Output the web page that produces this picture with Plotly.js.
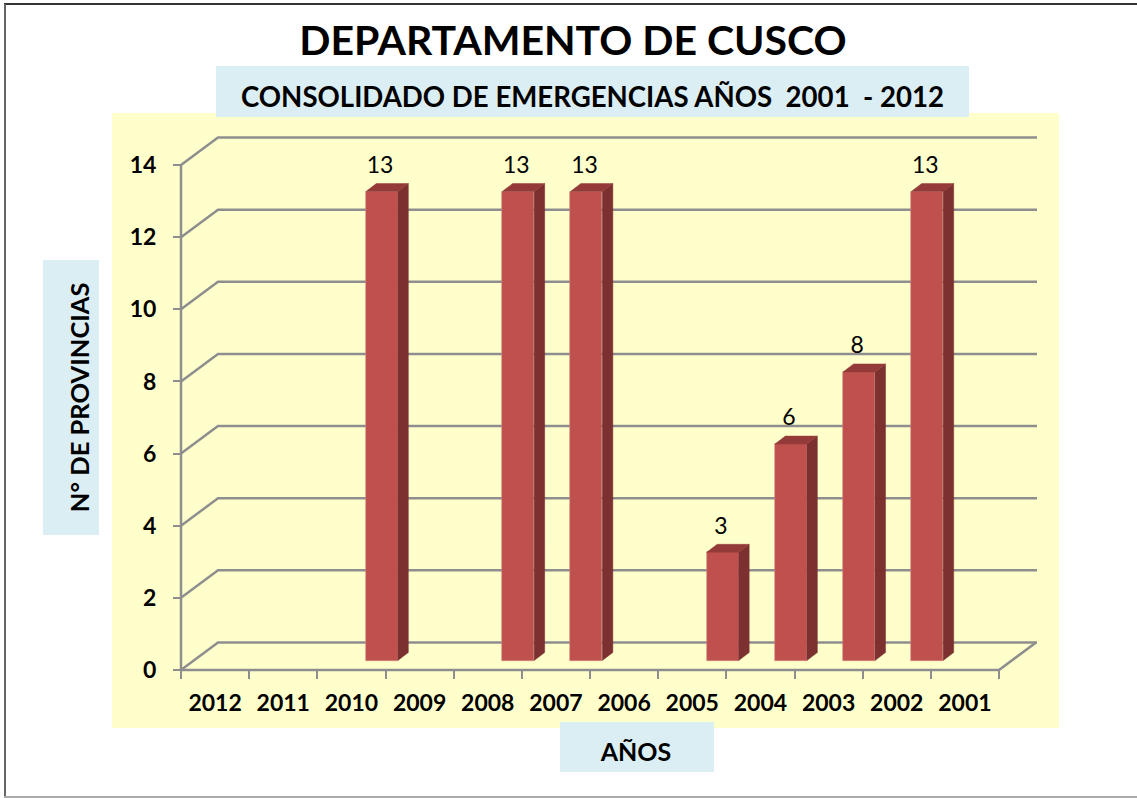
<!DOCTYPE html>
<html>
<head>
<meta charset="utf-8">
<script src="https://cdn.plot.ly/plotly-3.0.1.min.js"></script>
<style>html,body{margin:0;padding:0;background:#fff}#chart{width:1137px;height:798px}</style>
</head>
<body>
<div id="chart"></div>
<script>
const categories = ['2012','2011','2010','2009','2008','2007','2006','2005','2004','2003','2002','2001'];
const provincias = [null,null,13,null,13,13,null,3,6,8,13,null];
const yTicks = [0,2,4,6,8,10,12,14];

const W = 1137, H = 798;
const FONT = 'Lato, Carlito, Calibri, sans-serif';
const px = v => v / W, py = v => 1 - v / H;
const axisLeft = 181, axisBottom = 670, wallRight = 1037, wallTop = 137, bleed = 4;
const catPx = 68.17, unitPx = 36.07;

// 3-D projection constants, in axis units
const wallDx = 37 / catPx, wallDy = 27.5 / unitPx;
const barOffset = 14.4 / catPx, barWidth = 32 / catPx, barBase = 9.5 / unitPx;
const sideDx = 10.5 / catPx, sideDy = 8 / unitPx;
const labelDy = 24.5 / unitPx, labelDx = -1.8 / catPx;

const x0 = -0.5, xN = categories.length - 0.5;
const xEnd = x0 + (wallRight - axisLeft) / catPx;
const xRange = [x0 - bleed / catPx, xEnd + bleed / catPx];
const yRange = [-bleed / unitPx, (axisBottom - wallTop + bleed) / unitPx];
const pad = n => '\u00A0'.repeat(n);

// wall grid, floor and axis lines, kept under the bars
const gridColor = '#8e8e8e';
const polyline = pts => ({type:'path', xref:'x', yref:'y', layer:'below',
  path:pts.map((p, i) => (i ? 'L' : 'M') + p[0] + ',' + p[1]).join(' '),
  line:{color:gridColor, width:2.5}});
const gridShapes = yTicks.map(t => polyline([[x0, t], [x0 + wallDx, t + wallDy], [xEnd, t + wallDy]]));
gridShapes.push(polyline([[x0, 0], [x0, yTicks[yTicks.length - 1]]]));
gridShapes.push(polyline([[x0, 0], [xN, 0], [xN + wallDx, wallDy]]));

// bar side and top faces, data labels
const sx = [], sy = [], tx = [], ty = [], lx = [], ly = [], lt = [];
provincias.forEach((v, i) => {
  if (v === null) return;
  const a = i + barOffset, b = a + barWidth, lo = barBase, hi = barBase + v;
  sx.push(b, b + sideDx, b + sideDx, b, b, null);
  sy.push(lo, lo + sideDy, hi + sideDy, hi, lo, null);
  tx.push(a, a + sideDx, b + sideDx, b, a, null);
  ty.push(hi, hi + sideDy, hi + sideDy, hi, hi, null);
  lx.push(a + barWidth / 2 + labelDx); ly.push(hi + labelDy); lt.push(String(v));
});

const traces = [
  {type:'bar', x:categories.map((c, i) => i), y:provincias, base:barBase, offset:barOffset, width:barWidth,
   marker:{color:'#C0504D', line:{color:'#D08A80', width:0.6}}, showlegend:false,
   customdata:categories, hovertemplate:'%{customdata}: %{y}<extra></extra>'},
  {type:'scatter', mode:'lines', x:sx, y:sy, fill:'toself', fillcolor:'#7C3130', cliponaxis:false,
   line:{color:'#7C3130', width:0.5}, hoverinfo:'skip', showlegend:false},
  {type:'scatter', mode:'lines', x:tx, y:ty, fill:'toself', fillcolor:'#943B39', cliponaxis:false,
   line:{color:'#943B39', width:0.5}, hoverinfo:'skip', showlegend:false},
  {type:'scatter', mode:'text', x:lx, y:ly, text:lt, cliponaxis:false, textposition:'middle center',
   textfont:{family:FONT, size:23, color:'#000'}, hoverinfo:'skip', showlegend:false}
];

const paperRect = (a, b, c, d, color) => ({type:'rect', xref:'paper', yref:'paper', layer:'below',
  x0:px(a), x1:px(c), y0:py(d), y1:py(b), fillcolor:color, line:{width:0}});
const paperLine = (a, b, c, d, color, w) => ({type:'line', xref:'paper', yref:'paper', layer:'below',
  x0:px(a), x1:px(c), y0:py(b), y1:py(d), line:{color:color, width:w}});

const layout = {
  width:W, height:H, autosize:false, bargap:0,
  margin:{l:0, r:0, t:0, b:0, pad:0},
  paper_bgcolor:'#fff', plot_bgcolor:'rgba(0,0,0,0)', showlegend:false,
  font:{family:FONT, color:'#000'},
  title:{text:'<b>DEPARTAMENTO DE CUSCO</b>', x:px(573), xanchor:'center', xref:'paper',
         y:py(41), yanchor:'middle', yref:'paper', font:{family:FONT, size:41, color:'#000'}},
  xaxis:{domain:[px(axisLeft - bleed), px(wallRight + bleed)], range:xRange,
         anchor:'free', position:py(axisBottom), showgrid:false, zeroline:false, showline:false,
         tickmode:'array', tickvals:categories.map((c, i) => i), ticktext:categories,
         ticks:'', ticklen:8, ticklabelstandoff:17,
         tickfont:{family:FONT, size:23, color:'#000', weight:700},
         minor:{tickmode:'array', tickvals:categories.map((c, i) => i - 0.5).concat([xN]),
                ticks:'outside', ticklen:8, tickwidth:2, tickcolor:gridColor, showgrid:false},
         title:{text:'<b>' + pad(9) + 'AÑOS</b>', standoff:28, font:{family:FONT, size:25, color:'#000'}}},
  yaxis:{domain:[py(axisBottom + bleed), py(wallTop - bleed)], range:yRange,
         anchor:'free', position:px(axisLeft), showgrid:false, zeroline:false, showline:false,
         tickmode:'array', tickvals:yTicks, ticks:'outside', ticklen:8, tickwidth:2, tickcolor:gridColor,
         ticklabelstandoff:12,
         tickfont:{family:FONT, size:23, color:'#000', weight:700},
         title:{text:'<b>' + pad(2) + 'N° DE PROVINCIAS</b>', standoff:31, font:{family:FONT, size:25.5, color:'#000'}}},
  annotations:[{xref:'paper', yref:'paper', x:px(592.5), y:py(96), xanchor:'center', yanchor:'middle', showarrow:false,
    text:'<b>CONSOLIDADO DE EMERGENCIAS AÑOS' + pad(2) + '2001' + pad(2) + '- 2012</b>',
    font:{family:FONT, size:27.6, color:'#000'}}],
  shapes:[
    paperRect(112, 113, 1059, 728, '#FFFFCC'),
    paperRect(216, 66, 969, 117, '#DBEEF4'),
    paperRect(43, 260, 99, 535, '#DBEEF4'),
    paperRect(560, 722, 714, 772, '#DBEEF4'),
    paperLine(4, 4, W, 4, '#333', 2),
    paperLine(5, 4, 5, 797, '#666', 2),
    paperLine(4, 797, W, 797, '#aaa', 2)
  ].concat(gridShapes)
};
Plotly.newPlot('chart', traces, layout, {displayModeBar:false, responsive:false});
</script>
</body>
</html>
